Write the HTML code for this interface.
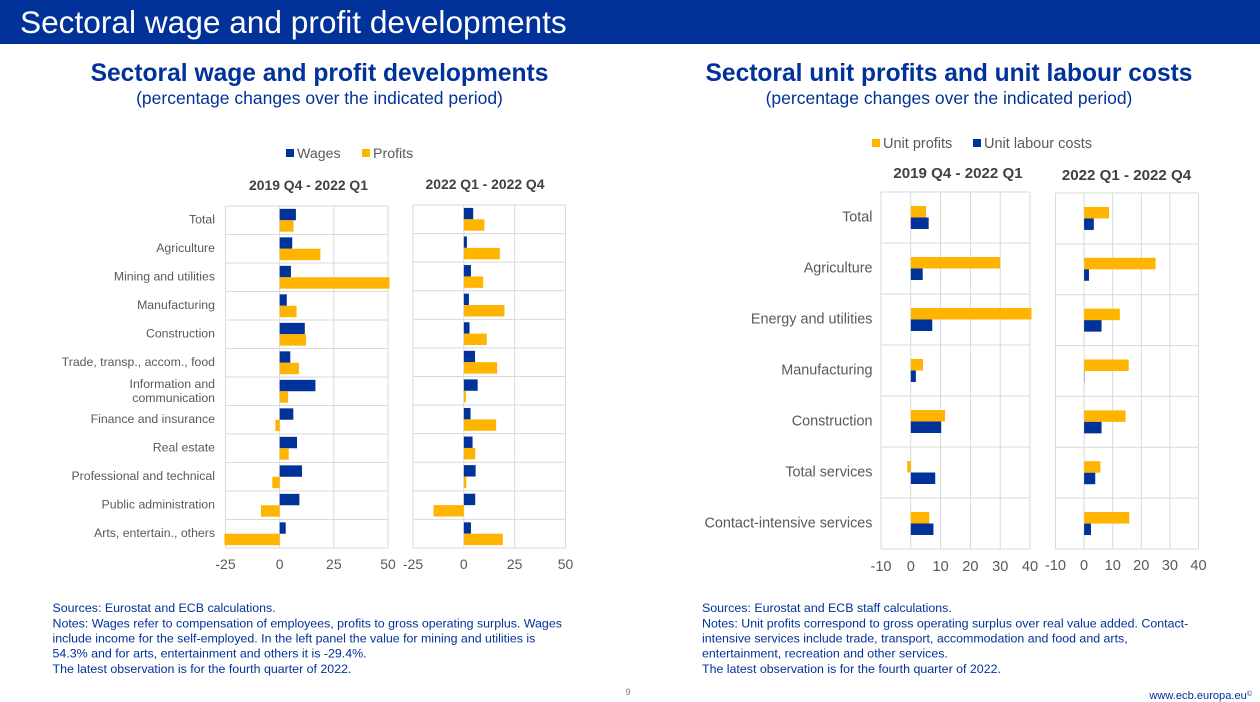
<!DOCTYPE html>
<html lang="en">
<head>
<meta charset="utf-8">
<title>Sectoral wage and profit developments</title>
<style>
html,body{margin:0;padding:0;background:#fff;}
body{width:1260px;height:702px;overflow:hidden;position:relative;}
svg{display:block;position:absolute;left:0;top:0;font-family:"Liberation Sans",Arial,sans-serif;}
</style>
</head>
<body>
<svg id="slide" width="1260" height="702" viewBox="0 0 1260 702" xmlns="http://www.w3.org/2000/svg">
  <rect x="0" y="0" width="1260" height="44" fill="#003299"/>
  <text x="20" y="33" font-size="31.64" fill="#fff">Sectoral wage and profit developments</text>

  <text x="319.5" y="81" text-anchor="middle" font-size="24.6" font-weight="bold" fill="#003299">Sectoral wage and profit developments</text>
  <text x="319.5" y="104" text-anchor="middle" font-size="17.5" fill="#003299">(percentage changes over the indicated period)</text>
  <text x="949" y="81" text-anchor="middle" font-size="24.55" font-weight="bold" fill="#003299">Sectoral unit profits and unit labour costs</text>
  <text x="949" y="104" text-anchor="middle" font-size="17.5" fill="#003299">(percentage changes over the indicated period)</text>

  <g>
    <rect x="286" y="149" width="8" height="8" fill="#003299"/>
    <text x="297" y="158" font-size="14.2" fill="#595959">Wages</text>
    <rect x="362" y="149" width="8" height="8" fill="#FFB400"/>
    <text x="373" y="158" font-size="14.2" fill="#595959">Profits</text>
  </g>
  <g>
    <rect x="872" y="139" width="8" height="8" fill="#FFB400"/>
    <text x="883" y="148" font-size="14.5" fill="#595959">Unit profits</text>
    <rect x="973" y="139" width="8" height="8" fill="#003299"/>
    <text x="984" y="148" font-size="14.5" fill="#595959">Unit labour costs</text>
  </g>

  <g font-size="12.4" fill="#003299">
    <text x="52.5" y="612">Sources: Eurostat and ECB calculations.</text>
    <text x="52.5" y="627.5">Notes: Wages refer to compensation of employees, profits to gross operating surplus. Wages</text>
    <text x="52.5" y="642.5">include income for the self-employed. In the left panel the value for mining and utilities is</text>
    <text x="52.5" y="657.5">54.3% and for arts, entertainment and others it is -29.4%.</text>
    <text x="52.5" y="673">The latest observation is for the fourth quarter of 2022.</text>
  </g>
  <g font-size="12.4" fill="#003299">
    <text x="702" y="612">Sources: Eurostat and ECB staff calculations.</text>
    <text x="702" y="627.5">Notes: Unit profits correspond to gross operating surplus over real value added. Contact-</text>
    <text x="702" y="642.5">intensive services include trade, transport, accommodation and food and arts,</text>
    <text x="702" y="657.5">entertainment, recreation and other services.</text>
    <text x="702" y="673">The latest observation is for the fourth quarter of 2022.</text>
  </g>
  <text x="628" y="695" text-anchor="middle" font-size="9.5" fill="#7f7f7f">9</text>
  <text x="1252" y="699" text-anchor="end" font-size="11.1" fill="#003299">www.ecb.europa.eu<tspan font-size="7" dy="-3">©</tspan></text>
</svg>
<script>
var sectorsLeft = ["Total","Agriculture","Mining and utilities","Manufacturing","Construction","Trade, transp., accom., food","Information and\ncommunication","Finance and insurance","Real estate","Professional and technical","Public administration","Arts, entertain., others"];
var sectorsRight = ["Total","Agriculture","Energy and utilities","Manufacturing","Construction","Total services","Contact-intensive services"];
var ticksLeft = [-25,0,25,50];
var ticksRight = [-10,0,10,20,30,40];
var wagesEarly = [7.5,5.8,5.2,3.3,11.6,4.9,16.5,6.3,8,10.3,9.1,2.8];
var profitsEarly = [6.4,18.8,54.3,7.8,12.2,8.9,3.9,-2,4.2,-3.4,-8.6,-29.4];
var wagesLate = [4.6,1.5,3.5,2.5,2.8,5.5,6.8,3.3,4.3,5.8,5.6,3.5];
var profitsLate = [10.1,17.7,9.5,20,11.3,16.4,1,15.9,5.6,1.2,-14.9,19.2];
var unitProfitsEarly = [5.1,30,44,4.1,11.5,-1.2,6.2];
var unitLabourEarly = [6,4,7.2,1.7,10.2,8.2,7.6];
var unitProfitsLate = [8.7,25,12.5,15.6,14.5,5.7,15.8];
var unitLabourLate = [3.4,1.7,6.1,0.1,6.1,3.9,2.4];
var BLUE = "#003299", GOLD = "#FFB400", GRID = "#d9d9d9", TEXT = "#595959";
var NS = "http://www.w3.org/2000/svg";
var root = document.getElementById("slide");

function mk(tag, parent, attrs) {
  var el = document.createElementNS(NS, tag);
  for (var k in attrs) el.setAttribute(k, attrs[k]);
  parent.appendChild(el);
  return el;
}

function drawPanel(p) {
  var g = mk("g", root, {});
  
  
  var min = p.ticks[0], max = p.ticks[p.ticks.length - 1];
  var sx = function (v) { return p.x0 + (v - min) / (max - min) * (p.x1 - p.x0); };
  var n = p.cats.length;
  var rowH = (p.y1 - p.y0) / n;
  var sy = function (i) { return p.y0 + i * rowH; };

  var title = mk("text", g, {x: p.titleX, y: p.titleY, "text-anchor": "middle", "font-size": p.titleSize, "font-weight": "bold", fill: "#404040"});
  title.textContent = p.title;
  
  

  for (var t = 0; t < p.ticks.length; t++) {
    var gl = mk("line", g, {x1: sx(p.ticks[t]), x2: sx(p.ticks[t]), y1: p.y0, y2: p.y1, stroke: GRID, "stroke-width": 1});
    
    
    var tl = mk("text", g, {x: sx(p.ticks[t]), y: p.tickY, "text-anchor": "middle", "font-size": p.tickSize, fill: TEXT});
    tl.textContent = p.ticks[t];
    
    
  }
  for (var r = 0; r <= n; r++) {
    var hl = mk("line", g, {x1: p.x0, x2: p.x1, y1: sy(r), y2: sy(r), stroke: GRID, "stroke-width": 1});
    
    
  }

  var clipId = p.name + "-clip";
  var defs = mk("defs", g, {});
  var cp = mk("clipPath", defs, {id: clipId});
  mk("rect", cp, {x: p.x0 - 1, y: p.y0, width: p.x1 - p.x0 + 2.5, height: p.y1 - p.y0});
  var marks = mk("g", g, {"clip-path": "url(#" + clipId + ")"});

  for (var i = 0; i < n; i++) {
    var top = sy(i) + (rowH - 2 * p.barH) / 2;
    for (var s = 0; s < 2; s++) {
      var v = p.series[s].values[i];
      var xa = sx(Math.min(0, v)), xb = sx(Math.max(0, v));
      var bar = mk("rect", marks, {x: xa, y: top + s * p.barH, width: xb - xa, height: p.barH, fill: p.series[s].color});
      
      
    }
    if (p.showCats) {
      var lines = p.cats[i].split("\n");
      var cy = sy(i) + rowH / 2 + p.labelSize * 0.35 + p.labelShift;
      for (var l = 0; l < lines.length; l++) {
        var off = lines.length > 1 ? (l === 0 ? -6.5 : 7.5) : 0;
        var c = mk("text", g, {x: p.labelX, y: cy + off, "text-anchor": "end", "font-size": p.labelSize, fill: TEXT});
        c.textContent = lines[l];
        
        
      }
    }
  }
}

drawPanel({name:"panel-wages-profits-2019-2022q1", title:"2019 Q4 - 2022 Q1", titleX:308.5, titleY:190, titleSize:13.9, x0:225.5, x1:388, y0:206, y1:548, ticks:ticksLeft, tickY:569, tickSize:14, cats:sectorsLeft, showCats:true, labelX:215, labelSize:12.3, labelShift:-1, barH:11.4,
  series:[{key:"wages",color:BLUE,values:wagesEarly},{key:"profits",color:GOLD,values:profitsEarly}]});
drawPanel({name:"panel-wages-profits-2022", title:"2022 Q1 - 2022 Q4", titleX:485, titleY:189, titleSize:13.9, x0:413, x1:565.5, y0:205, y1:548, ticks:ticksLeft, tickY:569, tickSize:14, cats:sectorsLeft, showCats:false, barH:11.4,
  series:[{key:"wages",color:BLUE,values:wagesLate},{key:"profits",color:GOLD,values:profitsLate}]});
drawPanel({name:"panel-unit-profits-2019-2022q1", title:"2019 Q4 - 2022 Q1", titleX:958, titleY:178, titleSize:15.1, x0:881, x1:1030, y0:192, y1:549, ticks:ticksRight, tickY:571, tickSize:14.6, cats:sectorsRight, showCats:true, labelX:872.5, labelSize:14.4, labelShift:-1, barH:11.5,
  series:[{key:"unit-profits",color:GOLD,values:unitProfitsEarly},{key:"unit-labour-costs",color:BLUE,values:unitLabourEarly}]});
drawPanel({name:"panel-unit-profits-2022", title:"2022 Q1 - 2022 Q4", titleX:1126.5, titleY:180, titleSize:15.1, x0:1055.5, x1:1198.5, y0:193, y1:549, ticks:ticksRight, tickY:570, tickSize:14.6, cats:sectorsRight, showCats:false, barH:11.5,
  series:[{key:"unit-profits",color:GOLD,values:unitProfitsLate},{key:"unit-labour-costs",color:BLUE,values:unitLabourLate}]});
</script>
</body>
</html>
